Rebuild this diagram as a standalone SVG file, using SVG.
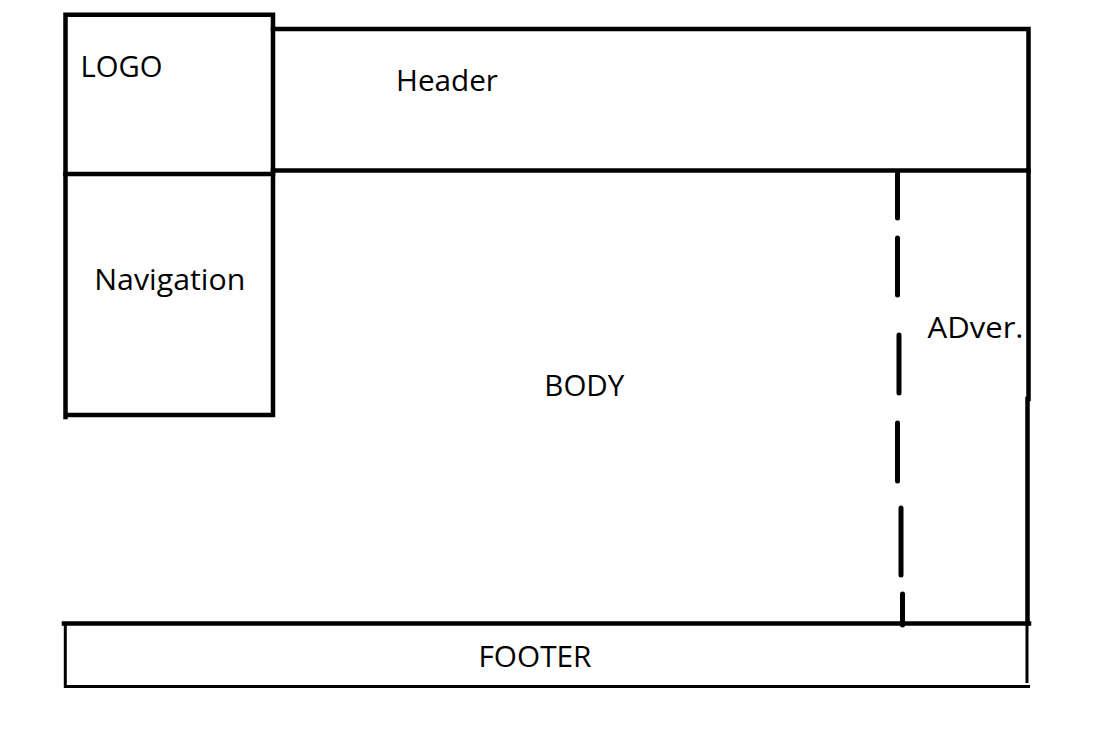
<svg xmlns="http://www.w3.org/2000/svg" width="1111" height="740" viewBox="0 0 1111 740">
<style>
.ln{stroke:#000;stroke-width:4.5;fill:none;stroke-linecap:square}
.thin{stroke:#000;stroke-width:3;fill:none}
.dash{stroke:#000;stroke-width:5;stroke-linecap:round}
.lbl{font-family:"Open Sans","Noto Sans",sans-serif;font-size:29.5px;fill:#000}
</style>
<rect width="1111" height="740" fill="#fff"/>
<g id="logo">
<path class="ln" d="M65.5 14.7H273V174H65.5Z"/>
<text class="lbl" x="80.5" y="77" textLength="82" lengthAdjust="spacingAndGlyphs">LOGO</text>
</g>
<g id="header">
<path class="ln" d="M273 29H1028.5V170.5H273"/>
<text class="lbl" x="396" y="91" textLength="102" lengthAdjust="spacingAndGlyphs">Header</text>
</g>
<g id="navigation">
<path class="ln" d="M65.5 174V417M273 174V415M65.5 415H273"/>
<text class="lbl" x="94.3" y="289.5" textLength="151" lengthAdjust="spacingAndGlyphs">Navigation</text>
</g>
<g id="body">
<text class="lbl" x="544.3" y="396" textLength="80" lengthAdjust="spacingAndGlyphs">BODY</text>
</g>
<g id="adver">
<path class="ln" d="M1028.5 170.5V399M1027.5 399V623"/>
<text class="lbl" x="927.5" y="338" textLength="96" lengthAdjust="spacingAndGlyphs">ADver.</text>
</g>
<g id="footer">
<path class="ln" d="M64 623.5H1029"/>
<path class="thin" d="M65.3 623V688M1027 623V683"/>
<path class="thin" d="M64 686.5H1030"/>
<text class="lbl" x="478.5" y="666.5" textLength="113" lengthAdjust="spacingAndGlyphs">FOOTER</text>
</g>
<g id="connectors">
<line class="dash" x1="897.5" y1="172" x2="897.5" y2="218"/>
<line class="dash" x1="897.5" y1="238" x2="897.5" y2="295"/>
<line class="dash" x1="899" y1="335" x2="899" y2="393"/>
<line class="dash" x1="897.5" y1="423" x2="897.5" y2="481"/>
<line class="dash" x1="901" y1="508" x2="901" y2="575"/>
<line class="dash" x1="902.5" y1="594" x2="902.5" y2="625"/>
</g>
</svg>
